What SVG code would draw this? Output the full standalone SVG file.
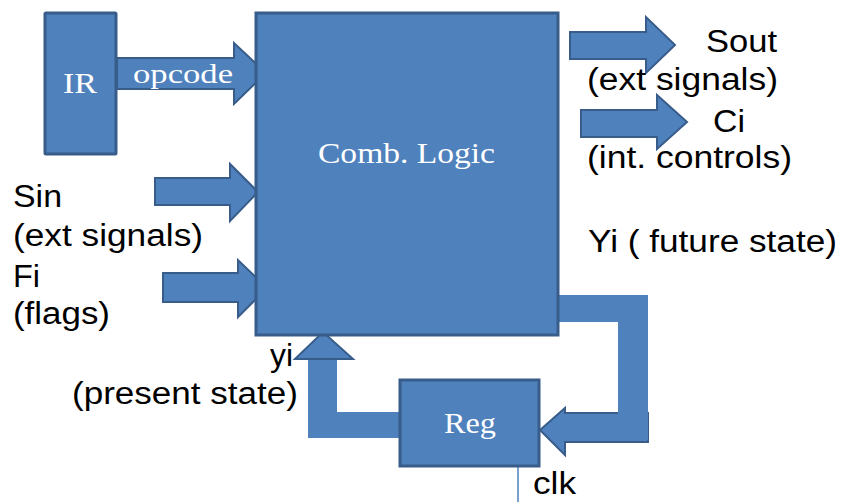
<svg xmlns="http://www.w3.org/2000/svg" width="851" height="502" viewBox="0 0 851 502">
  <style>
    .blk { fill: #4F81BD; stroke: #385D8A; stroke-width: 3; }
    .arr { fill: #4F81BD; stroke: #385D8A; stroke-width: 2; stroke-linejoin: miter; }
    .bar { fill: #4F81BD; stroke: none; }
    .lbl { font-family: "Liberation Sans", Arial, sans-serif; font-size: 31px; fill: #000; }
    .in  { font-family: "Liberation Serif", "Times New Roman", serif; fill: #fff; }
  </style>
  <rect width="851" height="502" fill="#fff"/>

  <g id="connectors">
    <!-- opcode: IR -> logic -->
    <polygon class="arr" points="117,58 234,58 234,43 266,73 234,104 234,89 117,89"/>
    <text class="in" x="133" y="83" font-size="28" textLength="100" lengthAdjust="spacingAndGlyphs">opcode</text>
    <!-- inputs -->
    <polygon class="arr" points="155,178 230,178 230,164 258,192 230,221 230,205 155,205"/>
    <polygon class="arr" points="163,273 238,273 238,260 267,288 238,317 238,302 163,302"/>
    <!-- outputs -->
    <polygon class="arr" points="570,32 646,32 646,17 675,45 646,73 646,59 570,59"/>
    <polygon class="arr" points="581,110 657,110 657,95 687,122 657,149 657,137 581,137"/>
    <!-- next state back into Reg -->
    <polygon class="arr" points="648,413 565,413 565,408 540,430 565,455 565,442 648,442"/>
    <polygon class="bar" points="558,295 648,295 648,440 618,440 618,322 558,322"/>
    <!-- present state from Reg up to logic -->
    <polygon class="bar" points="308,359 337,359 337,412 400,412 400,438 308,438"/>
    <polygon class="arr" points="337,359 353,359 323,332 295,359 308,359"/>
    <!-- clock -->
    <line x1="518" y1="455" x2="518" y2="502" stroke="#4F81BD" stroke-width="1.5"/>

    <!-- labels -->
    <text class="lbl" x="706" y="52" textLength="71" lengthAdjust="spacingAndGlyphs">Sout</text>
    <text class="lbl" x="587" y="90" textLength="191" lengthAdjust="spacingAndGlyphs">(ext signals)</text>
    <text class="lbl" x="713" y="132" textLength="32" lengthAdjust="spacingAndGlyphs">Ci</text>
    <text class="lbl" x="587" y="168" textLength="205" lengthAdjust="spacingAndGlyphs">(int. controls)</text>
    <text class="lbl" x="588" y="252" textLength="249" lengthAdjust="spacingAndGlyphs">Yi ( future state)</text>
    <text class="lbl" x="13" y="207" textLength="49" lengthAdjust="spacingAndGlyphs">Sin</text>
    <text class="lbl" x="13" y="246" textLength="190" lengthAdjust="spacingAndGlyphs">(ext signals)</text>
    <text class="lbl" x="13" y="287" textLength="27" lengthAdjust="spacingAndGlyphs">Fi</text>
    <text class="lbl" x="13" y="324" textLength="97" lengthAdjust="spacingAndGlyphs">(flags)</text>
    <text class="lbl" x="270" y="366" textLength="23" lengthAdjust="spacingAndGlyphs">yi</text>
    <text class="lbl" x="72" y="404" textLength="226" lengthAdjust="spacingAndGlyphs">(present state)</text>
    <text class="lbl" x="533" y="494" font-size="28" textLength="43" lengthAdjust="spacingAndGlyphs">clk</text>
  </g>

  <g id="ir">
    <rect class="blk" x="45" y="13" width="71" height="141" rx="1"/>
    <text class="in" x="63" y="93" font-size="30" textLength="34" lengthAdjust="spacingAndGlyphs">IR</text>
  </g>

  <g id="comb-logic">
    <rect class="blk" x="256" y="13" width="302" height="322"/>
    <text class="in" x="318" y="163" font-size="29" textLength="177" lengthAdjust="spacingAndGlyphs">Comb. Logic</text>
  </g>

  <g id="reg">
    <rect class="blk" x="400" y="380" width="139" height="86"/>
    <text class="in" x="444" y="433" font-size="30" textLength="52" lengthAdjust="spacingAndGlyphs">Reg</text>
  </g>
</svg>
